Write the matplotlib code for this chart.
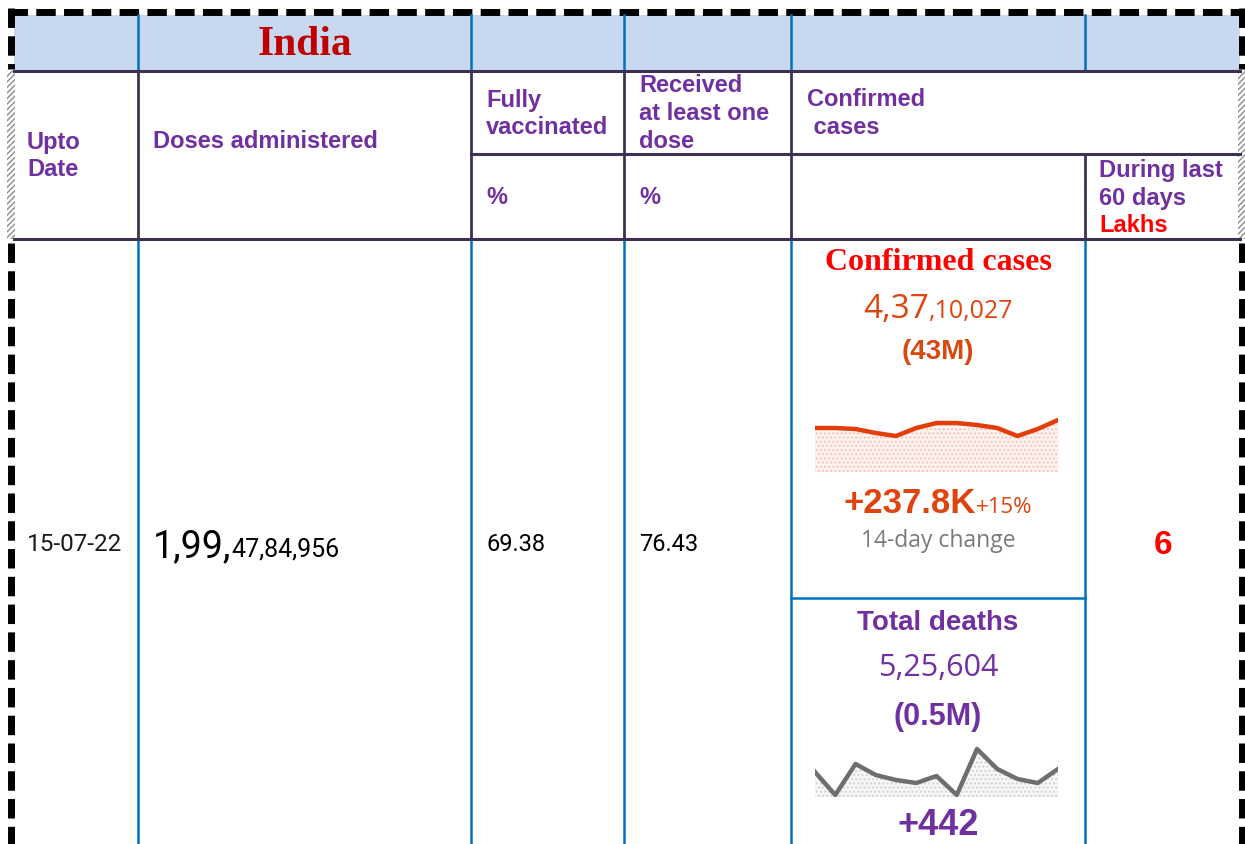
import matplotlib
matplotlib.use("Agg")
import matplotlib.pyplot as plt
from matplotlib.patches import Rectangle

# ---- data ----
title = "India"
col_edges = [138, 471, 624, 791, 1085]

upto_hdr = ["Upto", "Date"]
doses_hdr = ["Doses administered"]
fully_hdr = ["Fully", "vaccinated"]
onedose_hdr = ["Received", "at least one", "dose"]
confirmed_hdr = ["Confirmed", " cases"]
last60_hdr = ["During last", "60 days"]
last60_unit = "Lakhs"

row_date = "15-07-22"
doses_big, doses_small = "1,99,", "47,84,956"
fully_pct = "69.38"
onedose_pct = "76.43"
last60_val = "6"

cases_big, cases_small = "4,37", ",10,027"
cases_short = "(43M)"
cases_change, cases_change_pct = "+237.8K", "+15%"
deaths_total = "5,25,604"
deaths_short = "(0.5M)"
deaths_change = "+442"

# 14-day sparklines (relative heights)
case_spark = [44, 44, 43, 39, 36, 44, 49, 49, 47, 44, 36, 43, 52]
death_spark = [25, 2, 33, 22, 17, 14, 21, 2, 48, 28, 18, 14, 28]

PURPLE = "#7030a0"
LINE_P = "#3f3151"
BLUE = "#0070c0"
ORANGE = "#e0440e"

plt.rcParams["lines.scale_dashes"] = False

fig = plt.figure(figsize=(12.45, 8.45), dpi=100)
ax = fig.add_axes([0, 0, 1, 1])
ax.set_xlim(0, 1245)
ax.set_ylim(845, 0)
ax.axis("off")

# header band
ax.add_patch(Rectangle((14, 16), 1226, 56, facecolor="#c6d9f0", edgecolor="none"))

# hatched strips on left/right in header rows
for x0 in (7, 1238):
    ax.add_patch(Rectangle((x0, 72), 8, 168, facecolor="white", edgecolor="#8c8c8c",
                           hatch="//////", linewidth=0))

# dashed outer border
dash = dict(color="black", linewidth=5, linestyle=(0, (14, 6)), solid_capstyle="butt",
            dash_capstyle="butt")
ax.plot([8, 1242], [12.5, 12.5], **dash)
ax.plot([11, 11], [9, 70], **dash)
ax.plot([11, 11], [244, 845], **dash)
ax.plot([1242, 1242], [9, 70], **dash)
ax.plot([1242, 1242], [244, 845], **dash)

# grid lines
for x in col_edges:
    ax.plot([x, x], [16, 72], color=BLUE, lw=1.8)
    ax.plot([x, x], [240, 845], color=BLUE, lw=1.8)
    if x != 1085:
        ax.plot([x, x], [72, 240], color=LINE_P, lw=2)
ax.plot([1085, 1085], [155, 240], color=LINE_P, lw=2)
ax.plot([14, 1240], [72, 72], color=LINE_P, lw=2.2)
ax.plot([471, 1240], [155, 155], color=LINE_P, lw=2.2)
ax.plot([14, 1240], [240, 240], color=LINE_P, lw=2.2)
ax.plot([791, 1085], [599, 599], color=BLUE, lw=1.8)

# title
ax.text(305, 45, title, ha="center", va="center", fontsize=30, fontweight="bold",
        family="Liberation Serif", color="#c00000")

hdr = dict(fontsize=17, fontweight="bold", family="Liberation Sans", color=PURPLE,
           va="center", ha="left")


def lines(x, ys, labels, **kw):
    for y, s in zip(ys, labels):
        ax.text(x, y, s, **kw)


lines(27, [142, 170], upto_hdr, **hdr)
lines(153, [142], doses_hdr, **hdr)
lines(486, [100, 127], fully_hdr, **hdr)
lines(639, [86, 114, 141], onedose_hdr, **hdr)
lines(807, [100, 127], confirmed_hdr, **hdr)
ax.text(486, 198, "%", **hdr)
ax.text(639, 198, "%", **hdr)
lines(1099, [171, 198], last60_hdr, **hdr)
ax.text(1099, 226, last60_unit, **{**hdr, "color": "#ff0000"})

renderer = fig.canvas.get_renderer()


def runs(x, y, parts, ha="left"):
    arts = [ax.text(0, y, s, va="baseline", ha="left", **kw) for s, kw in parts]
    widths = [a.get_window_extent(renderer).width for a in arts]
    x0 = x - sum(widths) / 2 if ha == "center" else x
    for a, w in zip(arts, widths):
        a.set_x(x0)
        x0 += w


# data row
ax.text(27, 545, row_date, va="center", fontsize=17.5, family="Roboto", color="#1a1a1a")
runs(153, 557, [(doses_big, dict(fontsize=27, family="Roboto", color="black")),
                (doses_small, dict(fontsize=18, family="Roboto", color="black"))])
ax.text(486, 545, fully_pct, va="center", fontsize=17, family="Roboto", color="black")
ax.text(639, 545, onedose_pct, va="center", fontsize=17, family="Roboto", color="black")
ax.text(1163, 546, last60_val, ha="center", va="center", fontsize=24, fontweight="bold",
        family="Liberation Sans", color="#ff0000")

cx = 938
ax.text(cx, 263, "Confirmed cases", ha="center", va="center", fontsize=23, fontweight="bold",
        family="Liberation Serif", color="#ff0000")
runs(cx, 318, [(cases_big, dict(fontsize=24, family="Open Sans", color=ORANGE)),
               (cases_small, dict(fontsize=18, family="Open Sans", color=ORANGE))], ha="center")
ax.text(cx, 352, cases_short, ha="center", va="center", fontsize=20, fontweight="bold",
        family="Liberation Sans", color="#d9480f")
runs(cx, 513, [(cases_change, dict(fontsize=25, fontweight="bold", family="Liberation Sans",
                                   color=ORANGE)),
               (cases_change_pct, dict(fontsize=16, family="Open Sans", color=ORANGE))],
     ha="center")
ax.text(cx, 541, "14-day change", ha="center", va="center", fontsize=16.5, family="Open Sans",
        color="#7a7a7a")

ax.text(cx, 623, "Total deaths", ha="center", va="center", fontsize=20, fontweight="bold",
        family="Liberation Sans", color=PURPLE)
ax.text(cx, 668, deaths_total, ha="center", va="center", fontsize=22, family="Open Sans",
        color=PURPLE)
ax.text(cx, 717, deaths_short, ha="center", va="center", fontsize=22, fontweight="bold",
        family="Liberation Sans", color=PURPLE)
ax.text(cx, 826, deaths_change, ha="center", va="center", fontsize=26, fontweight="bold",
        family="Liberation Sans", color=PURPLE)


def spark(top, bottom, vals, line_c, fill_c, hatch_c):
    sa = fig.add_axes([815 / 1245, 1 - bottom / 845, 243 / 1245, (bottom - top) / 845])
    xs = list(range(len(vals)))
    sa.fill_between(xs, 0, vals, facecolor=fill_c, edgecolor=hatch_c, hatch="....", linewidth=0)
    sa.plot(xs, vals, color=line_c, lw=3.2, solid_joinstyle="round")
    sa.set_xlim(0, len(vals) - 1)
    sa.set_ylim(0, bottom - top)
    sa.axis("off")


spark(416, 473, case_spark, "#e23d0b", "#fff3ef", "#f7c3b2")
spark(740, 798, death_spark, "#6e6e6e", "#f7f7f7", "#d2d2d2")

fig.savefig("out.png", dpi=100)
